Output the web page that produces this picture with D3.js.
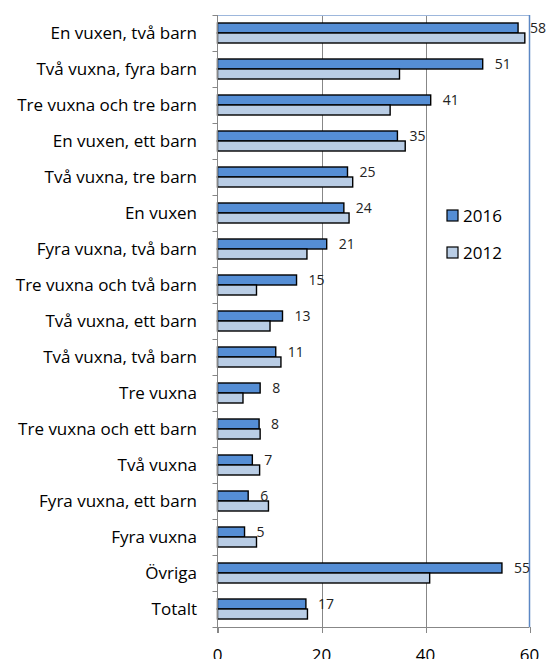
<!DOCTYPE html>
<html>
<head>
<meta charset="utf-8">
<script src="https://cdn.jsdelivr.net/npm/d3@7"></script>
<style>
  body { margin: 0; background: #fff; }
  svg { display: block; }
  text { font-family: "Open Sans", sans-serif; fill: #000; }
</style>
</head>
<body>
<div id="chart"></div>
<script>
const categories = [
  'En vuxen, två barn', 'Två vuxna, fyra barn', 'Tre vuxna och tre barn',
  'En vuxen, ett barn', 'Två vuxna, tre barn', 'En vuxen',
  'Fyra vuxna, två barn', 'Tre vuxna och två barn', 'Två vuxna, ett barn',
  'Två vuxna, två barn', 'Tre vuxna', 'Tre vuxna och ett barn',
  'Två vuxna', 'Fyra vuxna, ett barn', 'Fyra vuxna', 'Övriga', 'Totalt'
];
const values2016 = [57.8, 51.0, 41.0, 34.6, 25.0, 24.3, 21.0, 15.2, 12.5, 11.2, 8.2, 8.0, 6.7, 5.9, 5.2, 54.7, 17.0];
const values2012 = [59.1, 35.0, 33.2, 36.1, 26.0, 25.3, 17.2, 7.5, 10.1, 12.2, 4.9, 8.2, 8.1, 9.8, 7.5, 40.8, 17.3];
const labels2016 = [58, 51, 41, 35, 25, 24, 21, 15, 13, 11, 8, 8, 7, 6, 5, 55, 17];
const seriesNames = ['2016', '2012'];
const xTicks = [0, 20, 40, 60];

const colors = { '2016': '#558ed5', '2012': '#b9cde5' };

const W = 546, H = 659;
const pLeft = 217.5, pRight = 529.5, pTop = 15, pBottom = 627;

const svg = d3.select('#chart').append('svg')
  .attr('width', W).attr('height', H);

const x = d3.scaleLinear().domain([0, 60]).range([pLeft, pRight]);
const y = d3.scaleBand().domain(categories).range([pTop, pBottom]).padding(0);
const ys = d3.scaleBand().domain(seriesNames).range([0, y.bandwidth()]).paddingInner(0).paddingOuter(0.8);

// gridlines
svg.append('g')
  .selectAll('line')
  .data(xTicks.filter(d => d > 0 && d < 60))
  .join('line')
  .attr('x1', d => Math.round(x(d)) + 0.5).attr('x2', d => Math.round(x(d)) + 0.5)
  .attr('y1', pTop).attr('y2', pBottom)
  .attr('stroke', '#878787').attr('stroke-width', 1);

// plot border (top & right)
svg.append('line')
  .attr('x1', pLeft).attr('x2', pRight).attr('y1', pTop + 0.5).attr('y2', pTop + 0.5)
  .attr('stroke', '#9db7dc').attr('stroke-width', 1);
svg.append('line')
  .attr('x1', pRight).attr('x2', pRight).attr('y1', pTop).attr('y2', pBottom)
  .attr('stroke', '#5b87c4').attr('stroke-width', 1.5);

// bars
const rows = categories.map((c, i) => ({ c, v: { '2016': values2016[i], '2012': values2012[i] }, lab: labels2016[i] }));

const groups = svg.append('g').selectAll('g')
  .data(rows)
  .join('g')
  .attr('transform', d => `translate(0,${y(d.c)})`);

groups.selectAll('rect')
  .data(d => seriesNames.map(s => ({ s, v: d.v[s] })))
  .join('rect')
  .attr('x', x(0))
  .attr('y', d => ys(d.s))
  .attr('width', d => x(d.v) - x(0))
  .attr('height', ys.bandwidth())
  .attr('fill', d => colors[d.s])
  .attr('stroke', '#000')
  .attr('stroke-width', 1.4);

groups.append('text')
  .attr('x', d => x(d.v['2016']) + 12)
  .attr('y', ys('2016') + ys.bandwidth() / 2)
  .attr('dy', '0.35em')
  .style('font-size', '14px')
  .style('fill', '#222')
  .text(d => d.lab);

// y axis
const yAxis = svg.append('g');
yAxis.append('line')
  .attr('x1', pLeft).attr('x2', pLeft).attr('y1', pTop).attr('y2', pBottom + 6)
  .attr('stroke', '#878787');
yAxis.selectAll('.tick')
  .data(categories.concat(['__end']))
  .join('line')
  .attr('class', 'tick')
  .attr('x1', pLeft - 5).attr('x2', pLeft)
  .attr('y1', (d, i) => Math.round(pTop + i * y.step()) + 0.5)
  .attr('y2', (d, i) => Math.round(pTop + i * y.step()) + 0.5)
  .attr('stroke', '#878787');
yAxis.selectAll('text')
  .data(categories)
  .join('text')
  .attr('x', 197)
  .attr('y', d => y(d) + y.bandwidth() / 2)
  .attr('dy', '0.35em')
  .attr('text-anchor', 'end')
  .style('font-size', '17px')
  .text(d => d);

// x axis
const xAxis = svg.append('g');
xAxis.append('line')
  .attr('x1', pLeft).attr('x2', pRight).attr('y1', pBottom + 0.5).attr('y2', pBottom + 0.5)
  .attr('stroke', '#878787');
xAxis.selectAll('.tick')
  .data(xTicks)
  .join('line')
  .attr('class', 'tick')
  .attr('x1', d => Math.round(x(d)) + 0.5).attr('x2', d => Math.round(x(d)) + 0.5)
  .attr('y1', pBottom).attr('y2', pBottom + 6)
  .attr('stroke', '#878787');
xAxis.selectAll('text')
  .data(xTicks)
  .join('text')
  .attr('x', d => x(d))
  .attr('y', 661)
  .attr('text-anchor', 'middle')
  .style('font-size', '17px')
  .text(d => d);

// legend
const legend = svg.append('g').selectAll('g')
  .data(seriesNames)
  .join('g')
  .attr('transform', (d, i) => `translate(447,${210 + i * 37})`);
legend.append('rect')
  .attr('width', 11).attr('height', 11)
  .attr('fill', d => colors[d])
  .attr('stroke', '#000').attr('stroke-width', 1.2);
legend.append('text')
  .attr('x', 16).attr('y', 6).attr('dy', '0.35em')
  .style('font-size', '17px')
  .text(d => d);
</script>
</body>
</html>
